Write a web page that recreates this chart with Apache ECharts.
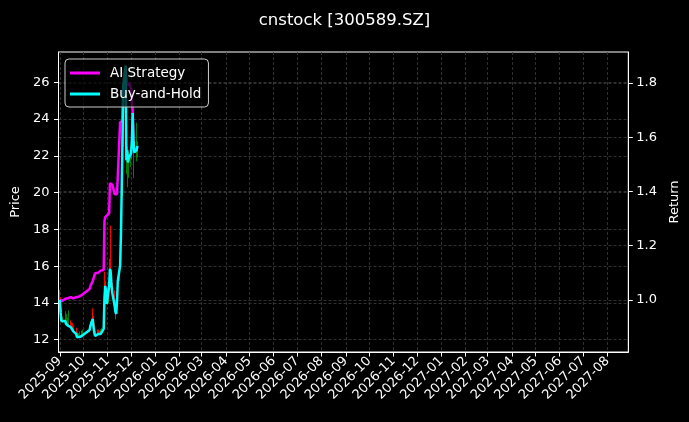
<!DOCTYPE html>
<html>
<head>
<meta charset="utf-8">
<script src="https://cdn.jsdelivr.net/npm/echarts@6/dist/echarts.min.js"></script>
<style>
html,body{margin:0;padding:0;background:#000;}
#chart{width:689px;height:422px;}
</style>
</head>
<body>
<div id="chart"></div>
<script>
const dates = [
'2025-09-01','2025-09-02','2025-09-03','2025-09-04','2025-09-05',
'2025-09-08','2025-09-09','2025-09-10','2025-09-11','2025-09-12',
'2025-09-15','2025-09-16','2025-09-17','2025-09-18','2025-09-19',
'2025-09-22','2025-09-23','2025-09-24','2025-09-25','2025-09-26',
'2025-09-29','2025-09-30',
'2025-10-09','2025-10-10',
'2025-10-13','2025-10-14','2025-10-15','2025-10-16','2025-10-17',
'2025-10-20','2025-10-21','2025-10-22','2025-10-23','2025-10-24',
'2025-10-27','2025-10-28','2025-10-29','2025-10-30','2025-10-31',
'2025-11-03','2025-11-04','2025-11-05','2025-11-06','2025-11-07',
'2025-11-10','2025-11-11','2025-11-12','2025-11-13','2025-11-14',
'2025-11-17','2025-11-18','2025-11-19','2025-11-20','2025-11-21',
'2025-11-24','2025-11-25','2025-11-26','2025-11-27','2025-11-28',
'2025-12-01','2025-12-02','2025-12-03','2025-12-04','2025-12-05',
'2025-12-08','2025-12-09'
];
const openPrice = [
14.60,14.20,13.55,13.10,13.00,
13.00,13.15,12.95,13.05,12.85,
12.90,12.80,12.75,12.70,12.60,
12.55,12.45,12.30,12.18,12.25,
12.28,12.36,
12.45,12.65,
13.50,13.20,12.80,12.55,12.35,
12.30,12.45,12.35,12.40,12.45,
12.55,12.80,15.40,14.90,14.70,
14.10,15.20,16.60,15.60,14.95,
14.60,13.90,13.70,13.55,14.20,
15.30,16.10,17.70,20.00,22.70,
25.60,26.00,21.50,22.10,21.50,
21.70,22.00,22.70,23.80,22.60,
22.00,22.10
];
const closePrice = [
14.25,13.57,13.14,13.08,13.04,
13.14,12.98,13.04,12.92,12.88,
12.83,12.77,12.73,12.61,12.55,
12.45,12.30,12.23,12.24,12.30,
12.35,12.40,
12.67,12.88,
13.25,12.83,12.55,12.35,12.30,
12.45,12.35,12.40,12.45,12.51,
12.73,14.35,14.99,14.72,14.04,
14.99,15.89,15.68,14.99,14.62,
13.94,13.62,13.51,14.19,15.25,
16.05,17.63,20.01,22.64,25.55,
26.56,21.59,22.12,21.47,21.69,
21.96,22.64,24.07,22.64,22.00,
22.12,22.33
];
const lowPrice = [
14.10,13.50,13.05,12.95,12.90,
12.95,12.90,12.90,12.85,12.80,
12.75,12.70,12.65,12.55,12.50,
12.40,12.25,12.07,12.10,12.18,
12.20,12.30,
12.40,12.60,
13.10,12.75,12.50,12.30,12.20,
12.25,12.30,12.28,12.32,12.38,
12.50,12.75,14.30,14.50,13.95,
14.00,15.00,15.50,14.90,14.50,
13.85,13.55,13.10,13.50,14.10,
15.20,16.00,17.60,19.80,22.50,
25.00,21.30,21.00,20.30,20.80,
21.40,21.80,22.50,22.40,20.80,
21.70,21.90
];
const highPrice = [
14.70,14.30,13.70,13.30,13.25,
13.55,13.30,13.40,13.20,13.60,
13.05,12.95,12.90,12.85,12.75,
12.65,12.55,12.40,12.35,12.45,
12.50,12.55,
12.80,13.00,
13.70,13.30,12.90,12.60,12.45,
12.55,12.55,12.50,12.55,12.65,
12.90,14.90,15.70,15.20,14.80,
15.20,16.40,18.20,15.80,15.10,
14.70,14.10,13.90,14.30,15.40,
16.40,18.00,20.50,23.50,26.00,
26.91,26.50,22.80,22.50,22.20,
22.40,23.00,24.60,24.00,22.90,
23.80,22.80
];
const aiStrategy = [
1.000,0.996,0.996,0.996,0.997,
1.004,1.006,1.008,1.006,1.008,
1.010,1.008,1.006,1.006,1.008,
1.010,1.010,1.010,1.012,1.014,
1.018,1.024,
1.040,1.050,
1.070,1.078,1.090,1.098,1.102,
1.100,1.105,1.100,1.108,1.110,
1.110,1.290,1.305,1.310,1.310,
1.320,1.430,1.432,1.435,1.425,
1.390,1.385,1.385,1.390,1.392,
1.655,1.655,1.655,1.660,1.780,
1.850,1.820,1.800,1.790,1.800,
1.780,1.720,1.700,1.589,1.544,
1.552,1.567
];
const buyAndHold = [
1.000,0.952,0.922,0.918,0.915,
0.922,0.911,0.915,0.907,0.904,
0.900,0.896,0.893,0.885,0.881,
0.874,0.863,0.858,0.859,0.863,
0.867,0.870,
0.889,0.904,
0.930,0.900,0.881,0.867,0.863,
0.874,0.867,0.870,0.874,0.878,
0.893,1.007,1.052,1.033,0.985,
1.052,1.115,1.100,1.052,1.026,
0.978,0.956,0.948,0.996,1.070,
1.126,1.237,1.404,1.589,1.793,
1.864,1.515,1.552,1.507,1.522,
1.541,1.589,1.689,1.589,1.544,
1.552,1.567
];
const priceTicks = [12,14,16,18,20,22,24,26];
const returnTicks = [1.0,1.2,1.4,1.6,1.8];
const monthTicks = ['2025-09','2025-10','2025-11','2025-12','2026-01','2026-02','2026-03','2026-04','2026-05','2026-06','2026-07','2026-08','2026-09','2026-10','2026-11','2026-12','2027-01','2027-02','2027-03','2027-04','2027-05','2027-06','2027-07','2027-08'];

function ts(s){ const p=s.split('-').map(Number); return new Date(p[0],p[1]-1,p[2]||1).getTime(); }
const monthTs = monthTicks.map(ts);
const xMin = new Date(2025,7,30,8).getTime();
const xMax = new Date(2027,7,27,14).getTime();

const candleData = dates.map((d,i)=>[ts(d),openPrice[i],closePrice[i],lowPrice[i],highPrice[i]]);
const aiData = dates.map((d,i)=>[ts(d),aiStrategy[i]]);
const bhData = dates.map((d,i)=>[ts(d),buyAndHold[i]]);

const FONT = 'DejaVu Sans';
const gridLine = {show:true,lineStyle:{color:'#3c3c3c',width:0.8,type:[3,2]}};
const tick = {show:true,length:4.5,lineStyle:{color:'#fff',width:1}};

const chart = echarts.init(document.getElementById('chart'));
chart.setOption({
  backgroundColor:'#000',
  animation:false,
  textStyle:{fontFamily:FONT},
  title:{text:'cnstock [300589.SZ]',left:'center',top:7,
    textStyle:{color:'#fff',fontSize:16.5,fontWeight:'normal',fontFamily:FONT}},
  grid:{left:58.5,right:60.7,top:52,bottom:70,show:true,borderColor:'#fff',borderWidth:1,backgroundColor:'transparent'},
  legend:{orient:'vertical',left:65,top:59,itemWidth:30,itemHeight:3,itemGap:7,
    padding:[7,7,6,5],
    backgroundColor:'rgba(0,0,0,0.7)',borderColor:'#cccccc',borderWidth:1,borderRadius:4,
    textStyle:{color:'#fff',fontSize:13.5,fontFamily:FONT,padding:[0,0,0,5],lineHeight:14},
    data:[{name:'AI Strategy',icon:'rect'},{name:'Buy-and-Hold',icon:'rect'}]},
  xAxis:{type:'value',min:xMin,max:xMax,scale:true,
    axisLine:{show:true,lineStyle:{color:'#fff'}},
    axisTick:Object.assign({customValues:monthTs},tick),
    splitLine:gridLine,
    axisLabel:{customValues:monthTs,rotate:45,color:'#fff',fontSize:13,fontFamily:FONT,margin:7,
      formatter:function(v){const d=new Date(v);return d.getFullYear()+'-'+String(d.getMonth()+1).padStart(2,'0');}}
  },
  yAxis:[
    {type:'value',position:'left',min:11.33,max:27.65,
      name:'Price',nameLocation:'middle',nameGap:33,nameRotate:90,
      nameTextStyle:{color:'#fff',fontSize:13,fontFamily:FONT},
      axisLine:{show:true,lineStyle:{color:'#fff'}},
      axisTick:Object.assign({customValues:priceTicks},tick),
      splitLine:gridLine,
      axisLabel:{customValues:priceTicks,color:'#fff',fontSize:13,fontFamily:FONT,margin:9}},
    {type:'value',position:'right',min:0.808,max:1.914,
      name:'Return',nameLocation:'middle',nameGap:37,nameRotate:90,
      nameTextStyle:{color:'#fff',fontSize:13,fontFamily:FONT},
      axisLine:{show:true,lineStyle:{color:'#fff'}},
      axisTick:Object.assign({customValues:returnTicks},tick),
      splitLine:gridLine,
      axisLabel:{customValues:returnTicks,color:'#fff',fontSize:13,fontFamily:FONT,margin:8,
        formatter:function(v){return v.toFixed(1);}}}
  ],
  series:[
    {type:'candlestick',name:'Price',yAxisIndex:0,data:candleData,barWidth:1,
      itemStyle:{color:'#008000',color0:'#ff0000',borderColor:'#008000',borderColor0:'#ff0000',borderWidth:1},
      z:1},
    {type:'line',name:'AI Strategy',yAxisIndex:1,data:aiData,symbol:'none',
      lineStyle:{color:'#ff00ff',width:2.5},itemStyle:{color:'#ff00ff'},z:2},
    {type:'line',name:'Buy-and-Hold',yAxisIndex:1,data:bhData,symbol:'none',
      lineStyle:{color:'#00ffff',width:2.5},itemStyle:{color:'#00ffff'},z:3}
  ]
});
</script>
</body>
</html>
